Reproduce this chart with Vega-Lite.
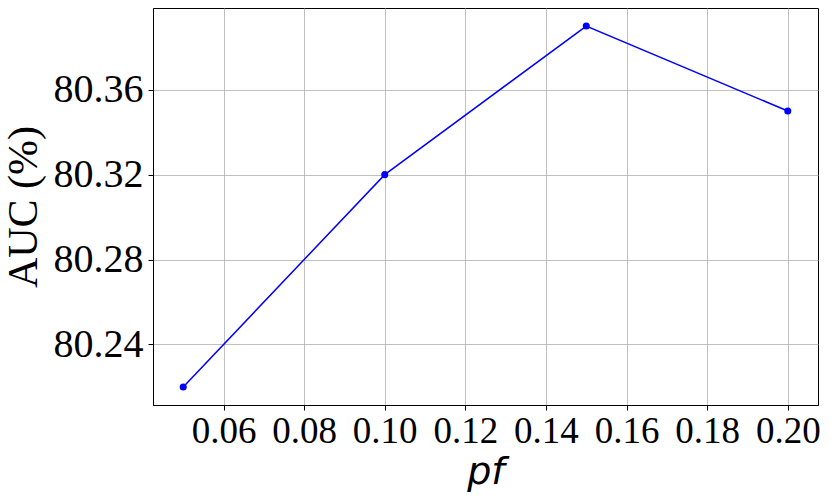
{
  "$schema": "https://vega.github.io/schema/vega-lite/v6.json",
  "width": 665,
  "height": 397,
  "autosize": {"type": "none"},
  "padding": {"left": 153, "top": 8, "right": 13, "bottom": 96},
  "background": "white",
  "config": {
    "view": {"stroke": "#000000", "strokeWidth": 1},
    "axis": {
      "grid": true,
      "gridColor": "#b0b0b0",
      "gridWidth": 0.8,
      "domainColor": "#000000",
      "tickColor": "#000000",
      "tickSize": 5,
      "labelFont": "Liberation Serif",
      "labelColor": "#000000",
      "titleColor": "#000000"
    }
  },
  "data": {
    "values": [
      {"pf": 0.05, "auc": 80.22},
      {"pf": 0.10, "auc": 80.32},
      {"pf": 0.15, "auc": 80.39},
      {"pf": 0.20, "auc": 80.35}
    ]
  },
  "layer": [
    {
      "mark": {"type": "line", "color": "#0000ff", "strokeWidth": 1.5},
      "encoding": {
        "x": {
          "field": "pf",
          "type": "quantitative",
          "scale": {"domain": [0.0425, 0.2075], "nice": false, "zero": false},
          "axis": {
            "values": [0.06, 0.08, 0.10, 0.12, 0.14, 0.16, 0.18, 0.20],
            "format": ".2f",
            "labelFontSize": 37,
            "labelPadding": 3,
            "labelFlush": false,
            "title": "pf",
            "titleFont": "DejaVu Sans",
            "titleFontStyle": "italic",
            "titleFontWeight": "normal",
            "titleFontSize": 38,
            "titlePadding": 4
          }
        },
        "y": {
          "field": "auc",
          "type": "quantitative",
          "scale": {"domain": [80.2115, 80.3985], "nice": false, "zero": false},
          "axis": {
            "values": [80.24, 80.28, 80.32, 80.36],
            "format": ".2f",
            "labelFontSize": 40,
            "labelPadding": 5,
            "labelFlush": false,
            "title": "AUC (%)",
            "titleFont": "Liberation Serif",
            "titleFontWeight": "normal",
            "titleFontSize": 42,
            "titlePadding": 8
          }
        }
      }
    },
    {
      "mark": {"type": "point", "filled": true, "color": "#0000ff", "size": 50, "opacity": 1},
      "encoding": {
        "x": {"field": "pf", "type": "quantitative"},
        "y": {"field": "auc", "type": "quantitative"}
      }
    }
  ]
}
